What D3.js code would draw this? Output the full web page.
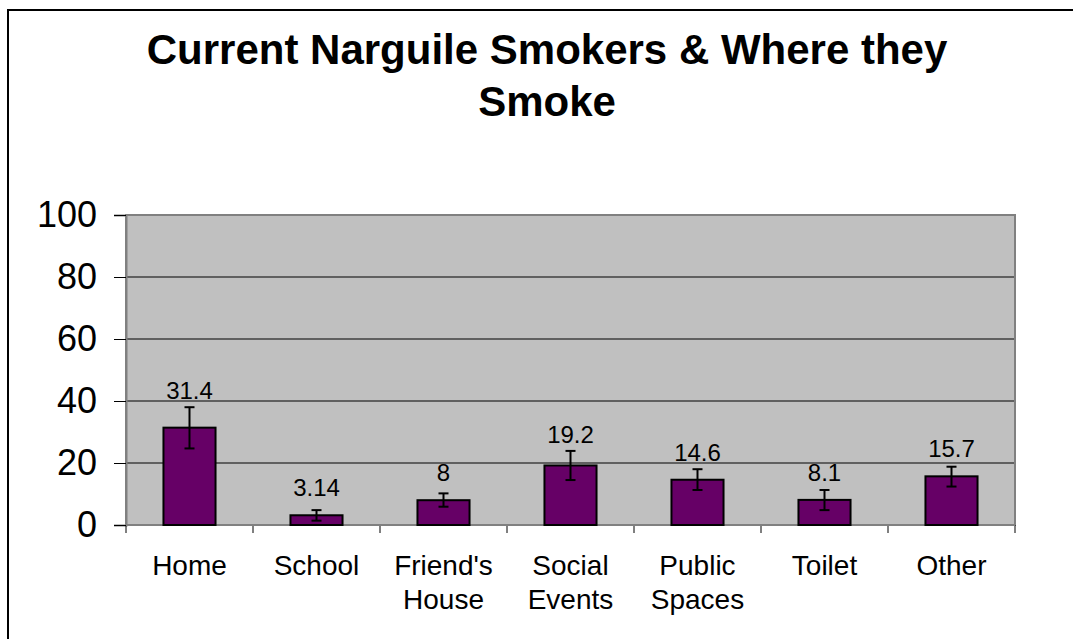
<!DOCTYPE html>
<html>
<head>
<meta charset="utf-8">
<script src="https://cdn.jsdelivr.net/npm/d3@7"></script>
<style>
  body { margin: 0; background: #fff; }
  svg { display: block; font-family: "Liberation Sans", Arial, sans-serif; }
</style>
</head>
<body>
<svg id="chart" width="1073" height="639"></svg>
<script>
const titleLines = ["Current Narguile Smokers & Where they", "Smoke"];
const categories = [["Home"], ["School"], ["Friend's", "House"], ["Social", "Events"],
                    ["Public", "Spaces"], ["Toilet"], ["Other"]];
const values = [31.4, 3.14, 8, 19.2, 14.6, 8.1, 15.7];
const labels = ["31.4", "3.14", "8", "19.2", "14.6", "8.1", "15.7"];
const errLow = [24.7, 1.4, 5.9, 14.5, 11.3, 4.8, 12.4];
const errHigh = [38.0, 4.8, 10.2, 23.9, 18.0, 11.3, 18.8];
const yTicks = [0, 20, 40, 60, 80, 100];

const svg = d3.select('#chart');
const plotL = 126, plotR = 1015, plotT = 215, plotB = 525;

// outer chart border (only left/top edges visible)
svg.append('rect')
  .attr('x', 8).attr('y', 10).attr('width', 1100).attr('height', 700)
  .attr('fill', 'none').attr('stroke', '#000').attr('stroke-width', 2);

svg.append('text')
  .attr('x', 547).attr('text-anchor', 'middle')
  .attr('font-size', 42).attr('font-weight', 'bold')
  .selectAll('tspan').data(titleLines).enter().append('tspan')
  .attr('x', 547).attr('y', (d, i) => 64 + i * 52)
  .text(d => d);

const x = d3.scaleBand()
  .domain(d3.range(categories.length))
  .range([plotL, plotR])
  .paddingInner(0.59).paddingOuter(0.295);
const y = d3.scaleLinear().domain([0, 100]).range([plotB, plotT]);

// plot area
svg.append('rect')
  .attr('x', plotL).attr('y', plotT).attr('width', plotR - plotL).attr('height', plotB - plotT)
  .attr('fill', '#c0c0c0');

svg.append('g')
  .selectAll('line').data(yTicks.filter(t => t > 0 && t < 100)).enter().append('line')
  .attr('x1', plotL).attr('x2', plotR)
  .attr('y1', d => y(d)).attr('y2', d => y(d))
  .attr('stroke', '#000').attr('stroke-width', 1);

svg.append('rect')
  .attr('x', plotL).attr('y', plotT).attr('width', plotR - plotL).attr('height', plotB - plotT)
  .attr('fill', 'none').attr('stroke', '#808080').attr('stroke-width', 2);

// y axis
const yAxis = svg.append('g')
  .attr('transform', 'translate(' + plotL + ',0)')
  .call(d3.axisLeft(y).tickValues(yTicks).tickSize(12).tickPadding(17));
yAxis.select('.domain').attr('stroke', '#808080').attr('stroke-width', 2);
yAxis.selectAll('.tick line').attr('stroke', '#000');
yAxis.selectAll('.tick text').attr('font-size', 36).attr('fill', '#000')
  .attr('font-family', '"Liberation Sans", Arial, sans-serif');

// x axis ticks at category boundaries
const bounds = d3.range(categories.length + 1).map(i => plotL + i * x.step());
svg.append('g').selectAll('line').data(bounds).enter().append('line')
  .attr('x1', d => d).attr('x2', d => d)
  .attr('y1', plotB).attr('y2', plotB + 8)
  .attr('stroke', '#000').attr('stroke-width', 1);
svg.append('line')
  .attr('x1', plotL).attr('x2', plotR).attr('y1', plotB).attr('y2', plotB)
  .attr('stroke', '#808080').attr('stroke-width', 2);

const catText = svg.append('g').selectAll('text').data(categories).enter().append('text')
  .attr('text-anchor', 'middle').attr('font-size', 28).attr('fill', '#000');
catText.selectAll('tspan').data((d, i) => d.map(s => [s, i])).enter().append('tspan')
  .attr('x', d => x(d[1]) + x.bandwidth() / 2)
  .attr('y', (d, j) => 575 + j * 34)
  .text(d => d[0]);

// bars
svg.append('g').selectAll('rect').data(values).enter().append('rect')
  .attr('x', (d, i) => x(i))
  .attr('y', d => y(d))
  .attr('width', x.bandwidth())
  .attr('height', d => y(0) - y(d))
  .attr('fill', '#660066').attr('stroke', '#000').attr('stroke-width', 2);

// error bars
const cx = i => x(i) + x.bandwidth() / 2;
const eb = svg.append('g').selectAll('g').data(values).enter().append('g')
  .attr('stroke', '#000').attr('stroke-width', 2);
eb.append('line')
  .attr('x1', (d, i) => cx(i)).attr('x2', (d, i) => cx(i))
  .attr('y1', (d, i) => y(errLow[i])).attr('y2', (d, i) => y(errHigh[i]));
eb.append('line')
  .attr('x1', (d, i) => cx(i) - 5).attr('x2', (d, i) => cx(i) + 5)
  .attr('y1', (d, i) => y(errLow[i])).attr('y2', (d, i) => y(errLow[i]));
eb.append('line')
  .attr('x1', (d, i) => cx(i) - 5).attr('x2', (d, i) => cx(i) + 5)
  .attr('y1', (d, i) => y(errHigh[i])).attr('y2', (d, i) => y(errHigh[i]));

// value labels
svg.append('g').selectAll('text').data(values).enter().append('text')
  .attr('x', (d, i) => cx(i))
  .attr('y', (d, i) => Math.min(y(d) - 19, y(errHigh[i]) - 8))
  .attr('text-anchor', 'middle').attr('font-size', 24).attr('fill', '#000')
  .text((d, i) => labels[i]);
</script>
</body>
</html>
